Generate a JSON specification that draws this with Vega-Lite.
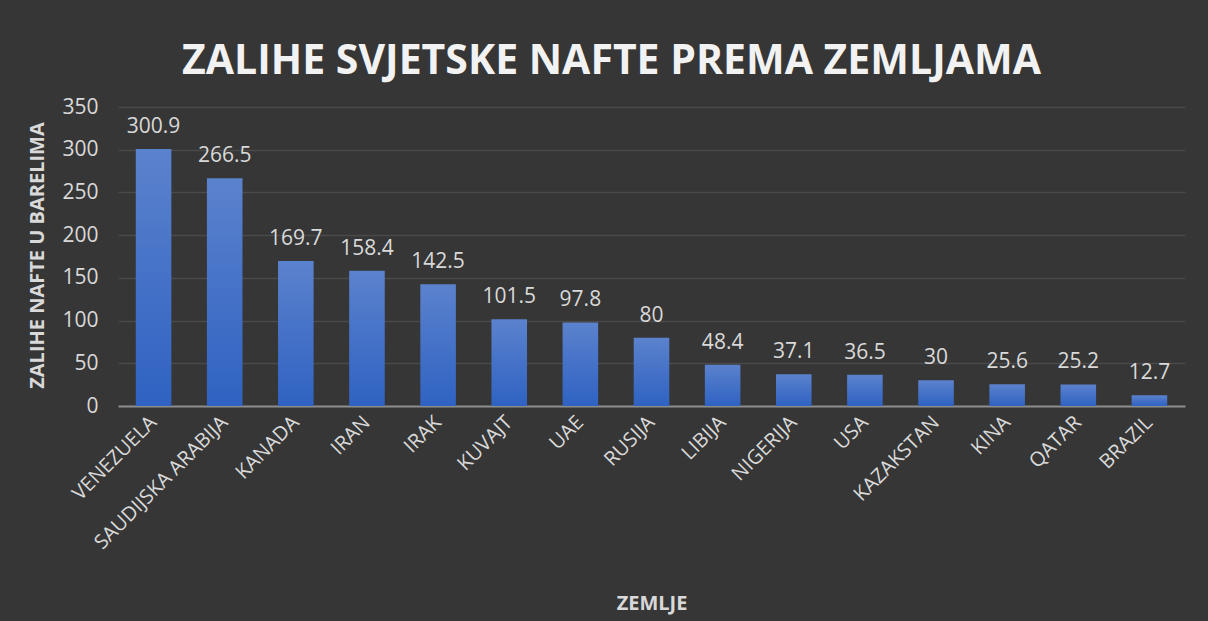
{
  "$schema": "https://vega.github.io/schema/vega-lite/v6.json",
  "width": 1067,
  "height": 299,
  "autosize": {"type": "none"},
  "padding": {"left": 118, "top": 107, "right": 23, "bottom": 215},
  "background": "#363636",
  "title": {
    "text": "ZALIHE SVJETSKE NAFTE PREMA ZEMLJAMA",
    "font": "Open Sans",
    "fontWeight": "bold",
    "fontSize": 41,
    "color": "#f2f2f2",
    "anchor": "middle",
    "dx": -40,
    "offset": 13
  },
  "data": {
    "values": [
      {"zemlja": "VENEZUELA", "zalihe": 300.9},
      {"zemlja": "SAUDIJSKA ARABIJA", "zalihe": 266.5},
      {"zemlja": "KANADA", "zalihe": 169.7},
      {"zemlja": "IRAN", "zalihe": 158.4},
      {"zemlja": "IRAK", "zalihe": 142.5},
      {"zemlja": "KUVAJT", "zalihe": 101.5},
      {"zemlja": "UAE", "zalihe": 97.8},
      {"zemlja": "RUSIJA", "zalihe": 80},
      {"zemlja": "LIBIJA", "zalihe": 48.4},
      {"zemlja": "NIGERIJA", "zalihe": 37.1},
      {"zemlja": "USA", "zalihe": 36.5},
      {"zemlja": "KAZAKSTAN", "zalihe": 30},
      {"zemlja": "KINA", "zalihe": 25.6},
      {"zemlja": "QATAR", "zalihe": 25.2},
      {"zemlja": "BRAZIL", "zalihe": 12.7}
    ]
  },
  "config": {
    "view": {"stroke": null},
    "font": "Open Sans"
  },
  "encoding": {
    "x": {
      "field": "zemlja",
      "type": "nominal",
      "sort": null,
      "scale": {"paddingInner": 0.5, "paddingOuter": 0.25},
      "axis": {
        "title": "ZEMLJE",
        "titleFont": "Open Sans",
        "titleFontWeight": "bold",
        "titleFontSize": 20,
        "titleColor": "#d9d9d9",
        "titleY": 203,
        "titleBaseline": "alphabetic",
        "labelAngle": -45,
        "labelAlign": "right",
        "labelBaseline": "middle",
        "labelFontSize": 20,
        "labelLimit": 400,
        "labelColor": "#d9d9d9",
        "labelPadding": 13,
        "ticks": false,
        "domainColor": "#8c8c8c",
        "domainWidth": 2,
        "grid": false
      }
    },
    "y": {
      "field": "zalihe",
      "type": "quantitative",
      "scale": {"domain": [0, 350]},
      "axis": {
        "title": "ZALIHE NAFTE U BARELIMA",
        "titleFont": "Open Sans",
        "titleFontWeight": "bold",
        "titleFontSize": 20,
        "titleColor": "#d9d9d9",
        "titleX": -81,
        "titleY": 148,
        "titleAngle": -90,
        "titleAlign": "center",
        "titleBaseline": "middle",
        "values": [0, 50, 100, 150, 200, 250, 300, 350],
        "labelFontSize": 21,
        "labelColor": "#d9d9d9",
        "labelPadding": 20,
        "ticks": false,
        "domain": false,
        "gridColor": "#4a4a4a",
        "gridWidth": 1.5
      }
    }
  },
  "layer": [
    {
      "mark": {
        "type": "bar",
        "color": {
          "gradient": "linear",
          "x1": 0, "y1": 0, "x2": 0, "y2": 1,
          "stops": [
            {"offset": 0, "color": "#5b82cd"},
            {"offset": 1, "color": "#2f62c2"}
          ]
        }
      }
    },
    {
      "mark": {
        "type": "text",
        "baseline": "bottom",
        "dy": -12,
        "fontSize": 21,
        "color": "#d9d9d9",
        "font": "Open Sans"
      },
      "encoding": {"text": {"field": "zalihe", "type": "quantitative"}}
    }
  ]
}
